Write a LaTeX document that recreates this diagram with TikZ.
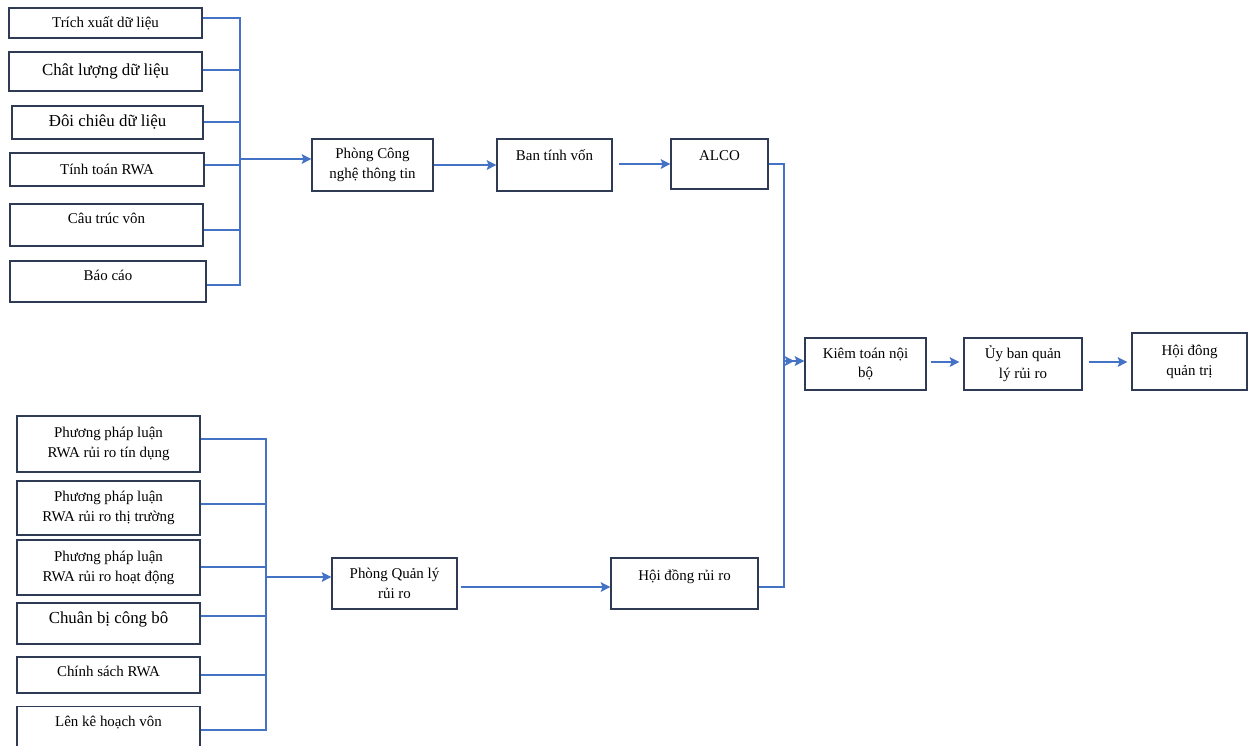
\documentclass[tikz,border=0pt]{standalone}
\usepackage{fontspec}
\setmainfont{Liberation Serif}
\usetikzlibrary{arrows.meta}
\definecolor{linkblue}{HTML}{4472C4}
\definecolor{boxline}{HTML}{2F3B55}
\begin{document}
\begin{tikzpicture}[x=0.02cm,y=-0.02cm,
  box/.style={draw=boxline,line width=0.7pt,align=center,inner sep=2pt,font=\fontsize{8.5}{11.3}\selectfont},
  bigbox/.style={box,font=\fontsize{9.6}{12}\selectfont},
  link/.style={draw=linkblue,line width=0.8pt},
  arr/.style={link,-{Stealth[length=5.5pt,width=5.5pt,inset=1pt]}}]
\useasboundingbox (0,0) rectangle (1248,745);
\node[box,minimum width=3.86cm,minimum height=0.60cm] (t1) at (105.5,23) {Trích xuất dữ liệu};
\node[bigbox,minimum width=3.86cm,minimum height=0.78cm] (t2) at (105.5,71.5) {Chât lượng dữ liệu};
\node[bigbox,minimum width=3.82cm,minimum height=0.66cm] (t3) at (107.5,122.5) {Đôi chiêu dữ liệu};
\node[box,minimum width=3.88cm,minimum height=0.66cm] (t4) at (107,169.5) {Tính toán RWA};
\node[box,minimum width=3.86cm,minimum height=0.84cm,text depth=7.5pt] (t5) at (106.5,225) {Câu trúc vôn};
\node[box,minimum width=3.92cm,minimum height=0.82cm,text depth=7.5pt] (t6) at (108,281.5) {Báo cáo};
\node[box,minimum width=2.42cm,minimum height=1.04cm] (cntt) at (372.5,165) {Phòng Công\\nghệ thông tin};
\node[box,minimum width=2.30cm,minimum height=1.04cm,text depth=11pt] (btv) at (554.5,165) {Ban tính vốn};
\node[box,minimum width=1.94cm,minimum height=1.00cm,text depth=10pt] (alco) at (719.5,164) {ALCO};
\node[box,minimum width=2.42cm,minimum height=1.04cm] (kt) at (865.5,364) {Kiêm toán nội\\bộ};
\node[box,minimum width=2.36cm,minimum height=1.04cm] (ub) at (1023,364) {Ủy ban quản\\lý rủi ro};
\node[box,minimum width=2.30cm,minimum height=1.14cm] (hdqt) at (1189.5,361.5) {Hội đông\\quản trị};
\node[box,minimum width=3.66cm,minimum height=1.12cm] (b1) at (108.5,444) {Phương pháp luận\\RWA rủi ro tín dụng};
\node[box,minimum width=3.66cm,minimum height=1.08cm] (b2) at (108.5,508) {Phương pháp luận\\RWA rủi ro thị trường};
\node[box,minimum width=3.66cm,minimum height=1.10cm] (b3) at (108.5,567.5) {Phương pháp luận\\RWA rủi ro hoạt động};
\node[bigbox,minimum width=3.66cm,minimum height=0.82cm,text depth=6.5pt] (b4) at (108.5,623.5) {Chuân bị công bô};
\node[box,minimum width=3.66cm,minimum height=0.72cm,text depth=4pt] (b5) at (108.5,675) {Chính sách RWA};
\node[box,minimum width=3.66cm,minimum height=0.82cm,text depth=6.5pt] (b6) at (108.5,727) {Lên kê hoạch vôn};
\node[box,minimum width=2.50cm,minimum height=1.02cm] (qlrr) at (394.5,583.5) {Phòng Quản lý\\rủi ro};
\node[box,minimum width=2.94cm,minimum height=1.02cm,text depth=10pt] (hdrr) at (684.5,583.5) {Hội đồng rủi ro};
\coordinate (busA) at (240,159);
\coordinate (busB) at (266,577);
\coordinate (busC) at (784,361);
\draw[link] ([yshift=0.1cm]t1.east) -| (busA);
\draw[link] ([yshift=0.03cm]t2.east) -| (busA);
\draw[link] ([yshift=0.01cm]t3.east) -| (busA);
\draw[link] ([yshift=0.09cm]t4.east) -| (busA);
\draw[link] ([yshift=-0.1cm]t5.east) -| (busA);
\draw[link] ([yshift=-0.07cm]t6.east) -| (busA);
\draw[arr] (busA) -- (busA -| cntt.west);
\draw[arr] (cntt.east) -- (btv.west);
\draw[arr,shorten <=0.12cm] (btv.east |- alco.west) -- (alco.west);
\draw[arr] (alco.east) -| (busC) -- (busC -| kt.west);
\draw[arr,shorten >=0.2cm] ([yshift=-0.07cm]hdrr.east) -| (busC) -- (busC -| kt.west);
\draw[arr,shorten <=0.08cm,shorten >=0.08cm] ([yshift=0.04cm]kt.east) -- ([yshift=0.04cm]kt.east -| ub.west);
\draw[arr,shorten <=0.12cm,shorten >=0.08cm] ([yshift=0.04cm]ub.east) -- ([yshift=0.04cm]ub.east -| hdqt.west);
\draw[link] ([yshift=0.1cm]b1.east) -| (busB);
\draw[link] ([yshift=0.08cm]b2.east) -| (busB);
\draw[link] ([yshift=0.01cm]b3.east) -| (busB);
\draw[link] ([yshift=0.15cm]b4.east) -| (busB);
\draw[link] (b5.east) -| (busB);
\draw[link] ([yshift=-0.06cm]b6.east) -| (busB);
\draw[arr] (busB) -- (busB -| qlrr.west);
\draw[arr,shorten <=0.06cm] ([yshift=-0.07cm]qlrr.east) -- ([yshift=-0.07cm]hdrr.west);
\end{tikzpicture}
\end{document}
